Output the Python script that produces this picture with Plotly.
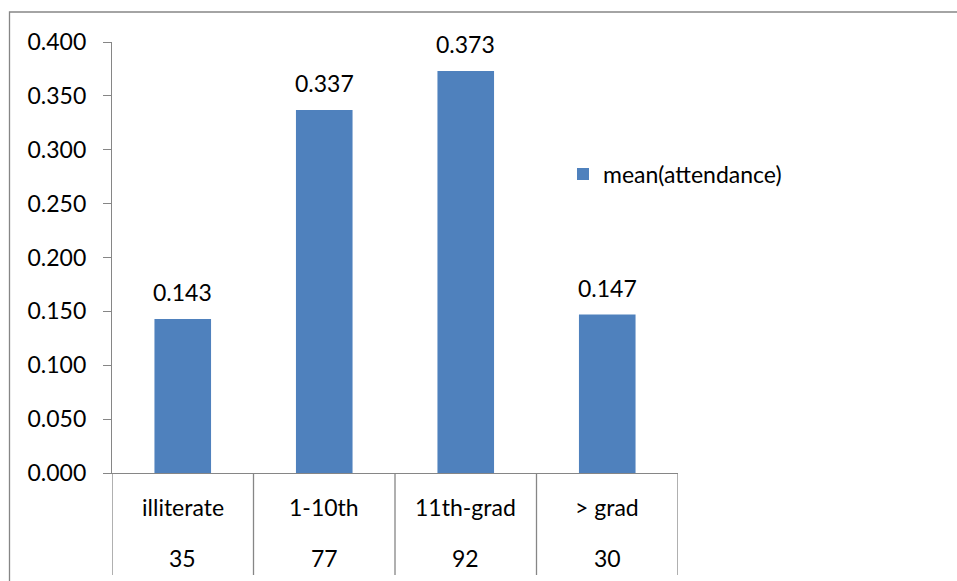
import plotly.graph_objects as go

# Mean attendance by education level, with group sizes shown under each category
categories = ["illiterate", "1-10th", "11th-grad", "> grad"]
counts = [35, 77, 92, 30]
mean_attendance = [0.143, 0.337, 0.373, 0.147]
series_name = "mean(attendance)"

W, H = 957, 581
L, R, T, B = 112, 678, 42, 473  # plot area edges in pixels
FONT = "Lato"
FS = 23
GRAY = "#868686"
BLUE = "#4F81BD"


def fx(p):
    return (p - L) / (R - L)


def fy(p):
    return (B - p) / (B - T)


fig = go.Figure(
    go.Bar(
        x=list(range(len(categories))),
        y=mean_attendance,
        name=series_name,
        marker=dict(color=BLUE, line=dict(width=0)),
        showlegend=True,
    )
)

annotations = []
# value labels above the bars
for i, v in enumerate(mean_attendance):
    annotations.append(dict(
        x=i, y=v, xref="x", yref="y", text=f"{v:.3f}", showarrow=False,
        yanchor="middle", yshift=27, font=dict(family=FONT, size=FS, color="black"),
    ))
# category table under the axis: name row and count row
for i, (c, n) in enumerate(zip(categories, counts)):
    annotations.append(dict(
        x=i, y=0, xref="x", yref="paper", text=c, showarrow=False,
        yanchor="middle", yshift=-34, font=dict(family=FONT, size=FS, color="black"),
    ))
    annotations.append(dict(
        x=i, y=0, xref="x", yref="paper", text=str(n), showarrow=False,
        yanchor="middle", yshift=-85, font=dict(family=FONT, size=FS, color="black"),
    ))

shapes = []
# vertical separators of the category table
for k in range(len(categories) + 1):
    shapes.append(dict(
        type="line", xref="x", yref="paper", x0=k - 0.5, x1=k - 0.5,
        y0=0, y1=fy(575), line=dict(color=GRAY, width=1.3),
    ))
# chart frame
shapes.append(dict(
    type="rect", xref="paper", yref="paper",
    x0=fx(9.5), x1=fx(965), y0=fy(12), y1=fy(590),
    line=dict(color=GRAY, width=1.3), fillcolor="rgba(0,0,0,0)", layer="below",
))

fig.update_layout(
    width=W, height=H,
    margin=dict(l=L, r=W - R, t=T, b=H - B, pad=0),
    paper_bgcolor="white", plot_bgcolor="white",
    bargap=0.6,
    font=dict(family=FONT, size=FS, color="black"),
    xaxis=dict(
        range=[-0.5, len(categories) - 0.5], showticklabels=False, ticks="",
        showgrid=False, zeroline=False, showline=True, linecolor=GRAY, linewidth=1.3,
        fixedrange=True,
    ),
    yaxis=dict(
        range=[0, 0.4], dtick=0.05, tickformat=".3f", showgrid=False, zeroline=False,
        showline=True, linecolor=GRAY, linewidth=1.3, ticks="outside", ticklen=8,
        tickcolor=GRAY, tickwidth=1.3, ticklabelstandoff=12,
        tickfont=dict(family=FONT, size=FS, color="black"),
    ),
    legend=dict(
        x=fx(563), y=fy(174), xanchor="left", yanchor="middle",
        font=dict(family=FONT, size=FS, color="black"),
        bgcolor="rgba(0,0,0,0)", borderwidth=0,
    ),
    showlegend=True,
    annotations=annotations,
    shapes=shapes,
)

fig.write_html("out.html", config={"displayModeBar": False})
